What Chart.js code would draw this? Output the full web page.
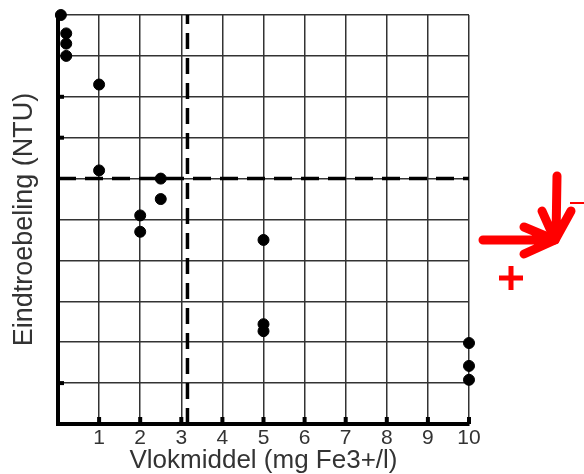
<!DOCTYPE html>
<html>
<head>
<meta charset="utf-8">
<script src="https://cdn.jsdelivr.net/npm/chart.js@4"></script>
<style>
  html, body { margin: 0; padding: 0; background: #fff; }
  #chart { display: block; }
</style>
</head>
<body>
<canvas id="chart" width="584" height="474"></canvas>
<script>
// Metingen: vlokmiddel dosering vs eindtroebeling
const doseValues = [0.07, 0.2, 0.2, 0.2, 1, 1, 2, 2, 2.5, 2.5, 5, 5, 5, 10, 10, 10];
const turbidityValues = [10, 9.55, 9.3, 9.0, 8.3, 6.2, 5.1, 4.7, 6.0, 5.5, 4.5, 2.44, 2.27, 1.98, 1.42, 1.08];

// Grenswaarden (stippellijnen)
const doseLimit = 3.15;
const turbidityLimit = 6;

const xTicks = [1, 2, 3, 4, 5, 6, 7, 8, 9, 10];
const yInnerTicks = [1, 7, 8];

const points = doseValues.map((x, i) => ({ x, y: turbidityValues[i] }));

// Kleine streepjes binnen de assen + de rode pijlen rechts
const extrasPlugin = {
  id: 'extras',
  afterDatasetsDraw(chart) {
    const { ctx, chartArea, scales } = chart;
    ctx.save();
    ctx.fillStyle = '#000';
    xTicks.forEach(v => {
      const px = scales.x.getPixelForValue(v);
      ctx.fillRect(px - 2, chartArea.bottom - 7, 4, 7);
    });
    yInnerTicks.forEach(v => {
      const py = scales.y.getPixelForValue(v);
      ctx.fillRect(chartArea.left, py - 2, 6, 4);
    });

    const tipX = chartArea.right + 86;
    const tipY = chartArea.top + 225;
    ctx.strokeStyle = '#ff0000';
    ctx.fillStyle = '#ff0000';
    ctx.lineCap = 'round';
    ctx.lineJoin = 'round';
    ctx.lineWidth = 9;
    ctx.beginPath();
    ctx.moveTo(tipX - 72, tipY);
    ctx.lineTo(tipX - 2, tipY);
    ctx.moveTo(tipX - 31, tipY - 13);
    ctx.lineTo(tipX, tipY);
    ctx.lineTo(tipX - 31, tipY + 14);
    ctx.stroke();

    ctx.beginPath();
    ctx.moveTo(tipX + 2, tipY - 64);
    ctx.lineTo(tipX + 1, tipY - 2);
    ctx.moveTo(tipX - 13, tipY - 29);
    ctx.lineTo(tipX, tipY);
    ctx.lineTo(tipX + 16, tipY - 29);
    ctx.stroke();

    ctx.lineCap = 'butt';
    ctx.lineWidth = 2;
    ctx.beginPath();
    ctx.moveTo(tipX + 15, tipY - 37);
    ctx.lineTo(tipX + 29, tipY - 37);
    ctx.stroke();

    ctx.lineWidth = 5;
    ctx.beginPath();
    ctx.moveTo(tipX - 56, tipY + 38);
    ctx.lineTo(tipX - 32, tipY + 38);
    ctx.moveTo(tipX - 44, tipY + 26);
    ctx.lineTo(tipX - 44, tipY + 50);
    ctx.stroke();
    ctx.restore();
  }
};

new Chart(document.getElementById('chart'), {
  type: 'scatter',
  data: {
    datasets: [
      {
        label: 'Metingen',
        data: points,
        backgroundColor: '#000',
        borderColor: '#000',
        pointRadius: 5.5,
        pointHoverRadius: 5.5,
        clip: false
      },
      {
        label: 'Grens vlokmiddel',
        type: 'line',
        data: [{ x: doseLimit, y: 0 }, { x: doseLimit, y: 10 }],
        borderColor: '#000',
        borderWidth: 3.5,
        borderDash: [16, 9],
        pointRadius: 0
      },
      {
        label: 'Grens troebeling',
        type: 'line',
        data: [{ x: 0, y: turbidityLimit }, { x: 10, y: turbidityLimit }],
        borderColor: '#000',
        borderWidth: 3.5,
        borderDash: [18, 9],
        pointRadius: 0
      }
    ]
  },
  options: {
    responsive: false,
    animation: false,
    layout: { padding: { left: 11, right: 115, top: 15, bottom: 0 } },
    plugins: {
      legend: { display: false },
      tooltip: { enabled: false }
    },
    scales: {
      x: {
        type: 'linear',
        min: 0,
        max: 10,
        afterBuildTicks: axis => { axis.ticks = [0, ...xTicks].map(v => ({ value: v })); },
        grid: { color: '#333', lineWidth: 1.5, drawTicks: false },
        border: { color: '#000', width: 4 },
        ticks: {
          color: '#333',
          padding: 4,
          font: { family: 'Liberation Sans', size: 21, lineHeight: 1 },
          callback: v => (v === 0 ? '' : v)
        },
        title: {
          display: true,
          text: 'Vlokmiddel (mg Fe3+/l)',
          color: '#333',
          padding: { top: -5, bottom: 0 },
          font: { family: 'Liberation Sans', size: 26, lineHeight: 1 }
        }
      },
      y: {
        type: 'linear',
        min: 0,
        max: 10,
        ticks: { display: false, stepSize: 1 },
        grid: { color: '#333', lineWidth: 1.5, drawTicks: false },
        border: { color: '#000', width: 4 },
        title: {
          display: true,
          text: 'Eindtroebeling (NTU)',
          color: '#333',
          padding: { top: 0, bottom: 20 },
          font: { family: 'Liberation Sans', size: 27, lineHeight: 1 }
        }
      }
    }
  },
  plugins: [extrasPlugin]
});
</script>
</body>
</html>
